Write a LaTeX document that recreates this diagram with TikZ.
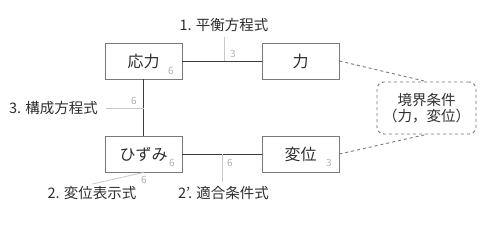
\documentclass[tikz,border=0pt]{standalone}
\usepackage{fontspec}
\setmainfont{Noto Sans CJK JP}
\usetikzlibrary{positioning}
\definecolor{boxgray}{HTML}{7A7A7A}
\definecolor{linkgray}{HTML}{3C3C3C}
\definecolor{leadgray}{HTML}{C8C8C8}
\definecolor{numgray}{HTML}{B0B0B0}
\definecolor{textgray}{HTML}{2E2E2E}

\begin{document}
\begin{tikzpicture}[
x=1pt, y=-1pt,
box/.style={draw=boxgray, line width=0.9pt, minimum width=77pt, minimum height=36pt, text=textgray, font=\fontsize{16}{18}\selectfont},
bcbox/.style={draw=boxgray, dashed, line width=0.9pt, rounded corners=7pt, minimum width=99pt, minimum height=52pt, align=center, text=textgray, font=\fontsize{14.5}{16}\selectfont},
eqlabel/.style={text=textgray, inner sep=2pt, font=\fontsize{14.5}{16}\selectfont},
num/.style={text=numgray, inner sep=0pt, font=\fontsize{10}{11}\selectfont},
link/.style={draw=linkgray, line width=0.9pt},
bclink/.style={draw=boxgray, dashed, line width=0.9pt},
leader/.style={draw=leadgray, line width=0.8pt}
]
\useasboundingbox (0,0) rectangle (500,227);
% boxes
\node[box] (stress) at (143.5,61) {応力};
\node[box] (force) at (300.5,61) {力};
\node[box] (strain) at (143.5,154) {ひずみ};
\node[box] (disp) at (300.5,154) {変位};
\node[bcbox] (bc) at (426.5,108) {境界条件\\（力，変位）};
% links
\draw[link] (stress) -- (force);
\draw[link] (stress) -- (strain);
\draw[link] (strain) -- (disp);
\draw[bclink] (force.east) -- (bc.north);
\draw[bclink] (disp.east) -- (bc.south);
% equation labels
\node[eqlabel] (eqbal) at (224,25) {1. 平衡方程式};
\node[eqlabel] (eqcon) at (53.5,108) {3. 構成方程式};
\node[eqlabel] (eqdisp) at (92,193) {2. 変位表示式};
\node[eqlabel] (eqcomp) at (223.5,193) {2'. 適合条件式};
\coordinate (balfoot) at (224,61);
\coordinate (confoot) at (143.5,108);
\coordinate (compfoot) at (222,154);
\draw[leader] (eqbal.south) ++(0,3) coordinate (baltop) -- (balfoot);
\draw[leader] ([xshift=6pt]eqcon.east) -- (confoot);
\draw[leader] (eqdisp.north) -- (strain.south);
\draw[leader] (compfoot) -- ([yshift=2pt]compfoot |- eqcomp.north);
% counts
\node[num] (nbal) at (233,54) {3};
\node[num] (nstress) at (171,71) {6};
\node[num] (ncon) at (134,101) {6};
\node[num] (nstrain) at (172,163) {6};
\node[num] (ndisp) at (144,180) {6};
\node[num] (ncomp) at (230,163) {6};
\node[num] (ndispbox) at (329,163) {3};
\end{tikzpicture}
\end{document}
